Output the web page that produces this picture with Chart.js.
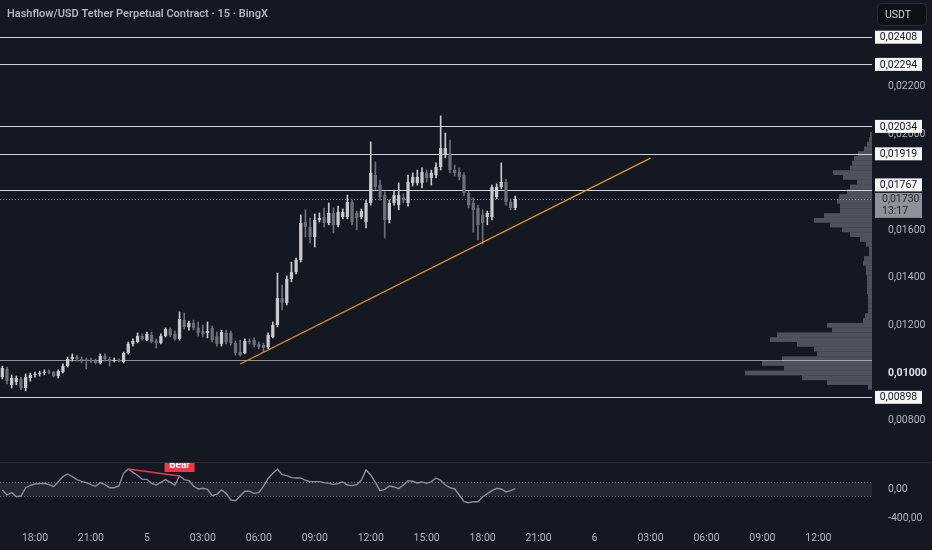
<!DOCTYPE html>
<html>
<head>
<meta charset="utf-8">
<script src="https://cdn.jsdelivr.net/npm/chart.js@4.4.1/dist/chart.umd.min.js"></script>
<style>
  html, body { margin: 0; padding: 0; background: #141823; }
  #wrap { position: relative; width: 932px; height: 550px; overflow: hidden; background: #141823; }
  #main { position: absolute; left: 0; top: 0; width: 932px; height: 462px; }
  #osc { position: absolute; left: 0; top: 462px; width: 932px; height: 88px; }
</style>
</head>
<body>
<div id="wrap">
  <div id="main"><canvas id="priceChart"></canvas></div>
  <div id="osc"><canvas id="oscChart"></canvas></div>
</div>
<script>
// 15 minute slots, day 4 16:15 -> day 6 14:45
const slotLabels = [];
for (let i = 0; i < 187; i++) {
  const m = 16 * 60 + 15 + i * 15;
  const day = 4 + Math.floor(m / 1440);
  const mm = m % 1440;
  slotLabels.push(day + ' ' + String(Math.floor(mm / 60)).padStart(2, '0') + ':' + String(mm % 60).padStart(2, '0'));
}

const timeTicks = ['4 18:00', '4 21:00', '5 00:00', '5 03:00', '5 06:00', '5 09:00', '5 12:00', '5 15:00',
  '5 18:00', '5 21:00', '6 00:00', '6 03:00', '6 06:00', '6 09:00', '6 12:00'];
const timeTickText = ['18:00', '21:00', '5', '03:00', '06:00', '09:00', '12:00', '15:00',
  '18:00', '21:00', '6', '03:00', '06:00', '09:00', '12:00'];

// 0,01800 is hidden behind the level labels, so it is left out
const priceTicks = [0.008, 0.010, 0.012, 0.014, 0.016, 0.020, 0.022];
const priceTickLabels = ['0,00800', '0,01000', '0,01200', '0,01400', '0,01600', '0,02000', '0,02200'];

const openP = [
  0.00983, 0.01017, 0.00950, 0.00962, 0.00975, 0.00937, 0.00979, 0.00992, 0.00996, 0.01000,
  0.01004, 0.01004, 0.00987, 0.01004, 0.01029, 0.01059, 0.01067, 0.01059, 0.01055, 0.01055,
  0.01050, 0.01042, 0.01071, 0.01059, 0.01050, 0.01055, 0.01046, 0.01084, 0.01122, 0.01130,
  0.01155, 0.01138, 0.01159, 0.01134, 0.01126, 0.01155, 0.01184, 0.01164, 0.01143, 0.01222,
  0.01193, 0.01210, 0.01189, 0.01176, 0.01168, 0.01189, 0.01155, 0.01122, 0.01168, 0.01168,
  0.01126, 0.01088, 0.01084, 0.01134, 0.01138, 0.01122, 0.01117, 0.01109, 0.01151, 0.01201,
  0.01314, 0.01294, 0.01394, 0.01423, 0.01474, 0.01633, 0.01612, 0.01570, 0.01642, 0.01654,
  0.01629, 0.01671, 0.01621, 0.01654, 0.01654, 0.01717, 0.01671, 0.01654, 0.01633, 0.01713,
  0.01830, 0.01788, 0.01746, 0.01642, 0.01713, 0.01704, 0.01734, 0.01713, 0.01797, 0.01797,
  0.01797, 0.01839, 0.01818, 0.01830, 0.01864, 0.01914, 0.01922, 0.01851, 0.01843, 0.01830,
  0.01755, 0.01713, 0.01692, 0.01663, 0.01654, 0.01654, 0.01738, 0.01780, 0.01801, 0.01717,
  0.01692
];
const highP = [
  0.01029, 0.01025, 0.00992, 0.00987, 0.00983, 0.00996, 0.01000, 0.01004, 0.01008, 0.01013,
  0.01013, 0.01008, 0.01013, 0.01038, 0.01067, 0.01080, 0.01075, 0.01067, 0.01063, 0.01063,
  0.01059, 0.01080, 0.01080, 0.01067, 0.01063, 0.01059, 0.01088, 0.01130, 0.01143, 0.01168,
  0.01164, 0.01172, 0.01172, 0.01143, 0.01164, 0.01189, 0.01189, 0.01176, 0.01256, 0.01252,
  0.01218, 0.01222, 0.01214, 0.01201, 0.01214, 0.01197, 0.01172, 0.01180, 0.01180, 0.01176,
  0.01134, 0.01138, 0.01143, 0.01143, 0.01147, 0.01130, 0.01126, 0.01168, 0.01214, 0.01419,
  0.01369, 0.01407, 0.01465, 0.01482, 0.01663, 0.01684, 0.01650, 0.01667, 0.01671, 0.01692,
  0.01713, 0.01692, 0.01700, 0.01688, 0.01746, 0.01725, 0.01679, 0.01688, 0.01725, 0.01969,
  0.01885, 0.01809, 0.01759, 0.01725, 0.01767, 0.01797, 0.01751, 0.01830, 0.01839, 0.01851,
  0.01860, 0.01851, 0.01851, 0.01881, 0.02078, 0.02006, 0.01977, 0.01872, 0.01860, 0.01839,
  0.01763, 0.01734, 0.01704, 0.01684, 0.01679, 0.01788, 0.01793, 0.01881, 0.01813, 0.01730,
  0.01742
];
const lowP = [
  0.00975, 0.00954, 0.00937, 0.00950, 0.00929, 0.00925, 0.00966, 0.00983, 0.00987, 0.00992,
  0.00996, 0.00983, 0.00979, 0.01000, 0.01025, 0.01050, 0.01050, 0.01042, 0.01017, 0.01042,
  0.01038, 0.01038, 0.01050, 0.01029, 0.01046, 0.01046, 0.01042, 0.01080, 0.01113, 0.01126,
  0.01138, 0.01134, 0.01126, 0.01105, 0.01122, 0.01151, 0.01151, 0.01138, 0.01138, 0.01184,
  0.01180, 0.01180, 0.01155, 0.01151, 0.01147, 0.01130, 0.01113, 0.01113, 0.01122, 0.01117,
  0.01075, 0.01071, 0.01080, 0.01122, 0.01109, 0.01101, 0.01088, 0.01101, 0.01147, 0.01193,
  0.01264, 0.01285, 0.01382, 0.01415, 0.01465, 0.01570, 0.01545, 0.01528, 0.01633, 0.01612,
  0.01621, 0.01587, 0.01612, 0.01646, 0.01646, 0.01621, 0.01600, 0.01646, 0.01608, 0.01704,
  0.01767, 0.01725, 0.01566, 0.01629, 0.01704, 0.01684, 0.01713, 0.01700, 0.01784, 0.01788,
  0.01776, 0.01801, 0.01788, 0.01818, 0.01851, 0.01902, 0.01839, 0.01826, 0.01809, 0.01742,
  0.01692, 0.01591, 0.01558, 0.01541, 0.01621, 0.01642, 0.01730, 0.01772, 0.01704, 0.01684,
  0.01684
];
const closeP = [
  0.01021, 0.00966, 0.00979, 0.00979, 0.00937, 0.00983, 0.00992, 0.00996, 0.01000, 0.01004,
  0.01002, 0.00987, 0.01008, 0.01029, 0.01059, 0.01067, 0.01059, 0.01055, 0.01052, 0.01050,
  0.01042, 0.01071, 0.01059, 0.01050, 0.01055, 0.01050, 0.01084, 0.01122, 0.01134, 0.01155,
  0.01143, 0.01164, 0.01130, 0.01126, 0.01155, 0.01184, 0.01159, 0.01143, 0.01226, 0.01193,
  0.01210, 0.01189, 0.01168, 0.01164, 0.01176, 0.01138, 0.01122, 0.01172, 0.01130, 0.01126,
  0.01084, 0.01075, 0.01134, 0.01130, 0.01117, 0.01109, 0.01105, 0.01159, 0.01201, 0.01314,
  0.01294, 0.01394, 0.01423, 0.01474, 0.01629, 0.01612, 0.01570, 0.01642, 0.01650, 0.01629,
  0.01671, 0.01621, 0.01675, 0.01675, 0.01717, 0.01633, 0.01650, 0.01679, 0.01713, 0.01839,
  0.01780, 0.01738, 0.01642, 0.01713, 0.01746, 0.01746, 0.01725, 0.01801, 0.01822, 0.01822,
  0.01843, 0.01818, 0.01839, 0.01864, 0.01943, 0.01943, 0.01851, 0.01839, 0.01822, 0.01755,
  0.01704, 0.01684, 0.01621, 0.01629, 0.01671, 0.01780, 0.01780, 0.01801, 0.01717, 0.01692,
  0.01730
];

// drawn levels
const levelPrices = [0.02408, 0.02294, 0.02034, 0.01919, 0.01767, 0.00898];
const levelLabels = ['0,02408', '0,02294', '0,02034', '0,01919', '0,01767', '0,00898'];
const plainLevel = 0.01055;
const lastPrice = 0.01730;
const lastPriceLabel = '0,01730';
const countdown = '13:17';

// trend line
const trendStart = ['5 05:00', 0.01038];
const trendEnd = ['6 03:00', 0.01901];

// visible range volume profile
const profileStep = 0.0002;
const profilePrices = [
  0.0094, 0.0096, 0.0098, 0.0100, 0.0102, 0.0104, 0.0106, 0.0108, 0.0110, 0.0112,
  0.0114, 0.0116, 0.0118, 0.0120, 0.0122, 0.0124, 0.0126, 0.0128, 0.0130, 0.0132,
  0.0134, 0.0136, 0.0138, 0.0140, 0.0142, 0.0144, 0.0146, 0.0148, 0.0150, 0.0152,
  0.0154, 0.0156, 0.0158, 0.0160, 0.0162, 0.0164, 0.0166, 0.0168, 0.0170, 0.0172,
  0.0174, 0.0176, 0.0178, 0.0180, 0.0182, 0.0184, 0.0186, 0.0188, 0.0190, 0.0192,
  0.0194, 0.0196, 0.0198, 0.0200
];
const profileVol = [
  4, 45, 70, 127, 88, 110, 90, 55, 58, 75,
  102, 95, 40, 45, 9, 7, 4, 4, 4, 4,
  5, 5, 5, 5, 6, 6, 9, 8, 3, 3,
  6, 12, 22, 30, 42, 58, 48, 32, 32, 35,
  33, 25, 22, 15, 29, 39, 22, 20, 18, 14,
  8, 5, 3, 2
];

// oscillator pane
const oscValues = [
  -14, -83, -51, -106, -97, 18, 51, 69, 74, 78,
  60, 32, 101, 170, 207, 170, 129, 106, 87, 60,
  37, 87, 60, 18, 18, 41, 216, 276, 230, 189,
  133, 133, 78, 55, 92, 129, 92, 55, 179, 129,
  115, 41, 0, 9, -5, -92, -74, -14, -60, -152,
  -161, -97, -32, -32, -60, -51, 37, 147, 216, 271,
  198, 184, 156, 152, 152, 120, 101, 101, 101, 87,
  78, 64, 74, 97, 55, 46, 60, 124, 262, 193,
  92, -23, -5, 41, 28, 5, 55, 115, 106, 83,
  97, 78, 101, 152, 120, 55, 18, 0, -83, -175,
  -189, -175, -175, -110, -64, -23, 9, 0, -41, -23,
  5
];
const oscBand = [-100, 100];
const oscTicks = [0, -400];
const oscTickLabels = ['0,00', '-400,00'];
const bearFrom = 27;
const bearTo = 38;

const textColor = '#b2b5be';
const upColor = '#c8cad0';
const downColor = '#6d707b';
const font = 'Roboto';

const wickData = openP.map((o, i) => [lowP[i], highP[i]]);
const bodyData = openP.map((o, i) => [o, closeP[i]]);
const candleColor = ctx => closeP[ctx.dataIndex] >= openP[ctx.dataIndex] ? upColor : downColor;

const mainPlugin = {
  id: 'mainDecor',
  beforeDatasetsDraw(chart) {
    const { ctx, chartArea: a, scales: { y } } = chart;
    ctx.save();
    // volume profile
    const maxVol = Math.max(...profileVol);
    ctx.fillStyle = 'rgba(128,131,140,0.55)';
    profilePrices.forEach((p, i) => {
      const top = y.getPixelForValue(p + profileStep / 2);
      const bot = y.getPixelForValue(p - profileStep / 2);
      const w = profileVol[i] / maxVol * 127;
      ctx.fillRect(a.right - w, top, w, bot - top);
    });
    // horizontal levels
    ctx.lineWidth = 1.2;
    ctx.strokeStyle = '#d1d4dc';
    levelPrices.forEach(p => {
      const py = Math.round(y.getPixelForValue(p)) + 0.5;
      ctx.beginPath(); ctx.moveTo(a.left, py); ctx.lineTo(a.right, py); ctx.stroke();
    });
    ctx.strokeStyle = 'rgba(209,212,220,0.65)';
    ctx.lineWidth = 1;
    const pp = Math.round(y.getPixelForValue(plainLevel)) + 0.5;
    ctx.beginPath(); ctx.moveTo(a.left, pp); ctx.lineTo(a.right, pp); ctx.stroke();
    // last price dotted line
    const ly = Math.round(y.getPixelForValue(lastPrice)) + 0.5;
    ctx.setLineDash([1, 2]);
    ctx.strokeStyle = 'rgba(178,181,190,0.7)';
    ctx.beginPath(); ctx.moveTo(a.left, ly); ctx.lineTo(a.right, ly); ctx.stroke();
    ctx.restore();
  },
  afterDraw(chart) {
    const { ctx, chartArea: a, scales: { y } } = chart;
    ctx.save();
    ctx.textBaseline = 'middle';
    // title
    ctx.font = '600 11px ' + font;
    ctx.fillStyle = textColor;
    ctx.textAlign = 'left';
    ctx.fillText('Hashflow/USD Tether Perpetual Contract \u00b7 15 \u00b7 BingX', 7, 14);
    // currency box
    ctx.fillStyle = '#0d1017';
    ctx.strokeStyle = '#2a2e39';
    ctx.lineWidth = 1;
    ctx.beginPath(); ctx.roundRect(877.5, 3.5, 49, 22, 4); ctx.fill(); ctx.stroke();
    ctx.fillStyle = '#d1d4dc';
    ctx.font = '10.5px ' + font;
    ctx.fillText('USDT', 885, 15);
    // last price label
    const ly = y.getPixelForValue(lastPrice);
    ctx.fillStyle = '#8f929a';
    ctx.fillRect(a.right + 3, ly - 6, 47, 25);
    ctx.fillStyle = '#23262f';
    ctx.font = '10.5px ' + font;
    ctx.fillText(lastPriceLabel, a.right + 10, ly);
    ctx.fillText(countdown, a.right + 10, ly + 12);
    // level labels
    levelPrices.forEach((p, i) => {
      let py = y.getPixelForValue(p);
      if (Math.abs(py - ly) < 14) py = ly - 14;
      ctx.fillStyle = '#f5f6f8';
      ctx.fillRect(a.right + 3, py - 6.5, 47, 13);
      ctx.fillStyle = '#131722';
      ctx.textAlign = 'center';
      ctx.fillText(levelLabels[i], a.right + 26.5, py + 0.5);
    });
    ctx.restore();
  }
};

new Chart(document.getElementById('priceChart'), {
  type: 'bar',
  data: {
    labels: slotLabels,
    datasets: [
      {
        type: 'line',
        data: [{ x: trendStart[0], y: trendStart[1] }, { x: trendEnd[0], y: trendEnd[1] }],
        borderColor: '#e8962f', borderWidth: 1.2, pointRadius: 0, order: 0
      },
      { data: bodyData, backgroundColor: candleColor, barPercentage: 0.7, categoryPercentage: 1, grouped: false, minBarLength: 1, order: 1 },
      { data: wickData, backgroundColor: candleColor, barThickness: 1, grouped: false, order: 2 }
    ]
  },
  options: {
    responsive: true,
    maintainAspectRatio: false,
    animation: false,
    layout: { padding: 0 },
    plugins: { legend: { display: false }, tooltip: { enabled: false } },
    scales: {
      x: { type: 'category', offset: true, display: false },
      y: {
        position: 'right',
        min: 0.006268,
        max: 0.02564,
        grid: { display: false },
        border: { display: false },
        afterFit: s => { s.width = 60; s.paddingTop = 0; s.paddingBottom = 0; },
        afterBuildTicks: s => { s.ticks = priceTicks.map(v => ({ value: v })); },
        ticks: {
          padding: 8,
          color: c => c.tick && c.tick.value === 0.010 ? '#e0e3eb' : textColor,
          font: c => ({ family: font, size: 10.5, weight: c.tick && c.tick.value === 0.010 ? 'bold' : 'normal' }),
          callback: v => { const k = priceTicks.indexOf(v); return k >= 0 ? priceTickLabels[k] : ''; }
        }
      }
    }
  },
  plugins: [mainPlugin]
});

const oscPlugin = {
  id: 'oscDecor',
  beforeDatasetsDraw(chart) {
    const { ctx, chartArea: a, scales: { y } } = chart;
    ctx.save();
    const t = y.getPixelForValue(oscBand[1]);
    const b = y.getPixelForValue(oscBand[0]);
    ctx.fillStyle = 'rgba(120,123,134,0.16)';
    ctx.fillRect(a.left, t, a.right - a.left, b - t);
    ctx.setLineDash([1, 2]);
    ctx.strokeStyle = 'rgba(160,163,172,0.55)';
    ctx.lineWidth = 1;
    [t, b].forEach(py => {
      ctx.beginPath(); ctx.moveTo(a.left, Math.round(py) + 0.5); ctx.lineTo(a.right, Math.round(py) + 0.5); ctx.stroke();
    });
    ctx.setLineDash([]);
    ctx.strokeStyle = '#2a2e39';
    ctx.beginPath(); ctx.moveTo(0, 0.5); ctx.lineTo(chart.width, 0.5); ctx.stroke();
    ctx.restore();
  },
  afterDatasetsDraw(chart) {
    const { ctx, chartArea: a, scales: { x } } = chart;
    ctx.save();
    ctx.beginPath(); ctx.rect(a.left, a.top + 1, a.right - a.left, a.bottom - a.top); ctx.clip();
    const px = x.getPixelForValue(bearTo);
    ctx.fillStyle = '#f23645';
    ctx.fillRect(px - 15, -3, 30, 13);
    ctx.fillStyle = '#ffffff';
    ctx.font = 'bold 10px ' + font;
    ctx.textAlign = 'center';
    ctx.textBaseline = 'middle';
    ctx.fillText('Bear', px, 3.5);
    ctx.restore();
  }
};

new Chart(document.getElementById('oscChart'), {
  type: 'line',
  data: {
    labels: slotLabels,
    datasets: [
      {
        data: [{ x: slotLabels[bearFrom], y: oscValues[bearFrom] }, { x: slotLabels[bearTo], y: oscValues[bearTo] }],
        borderColor: '#f23645', borderWidth: 1.5, pointRadius: 0, order: 0
      },
      { data: oscValues, borderColor: '#8c8f99', borderWidth: 1.4, pointRadius: 0, tension: 0, order: 1 }
    ]
  },
  options: {
    responsive: true,
    maintainAspectRatio: false,
    animation: false,
    layout: { padding: 0 },
    plugins: { legend: { display: false }, tooltip: { enabled: false } },
    scales: {
      x: {
        type: 'category',
        offset: true,
        grid: { display: false, drawTicks: false },
        border: { display: false },
        afterFit: s => { s.height = 23; s.paddingLeft = 0; s.paddingRight = 0; },
        ticks: {
          autoSkip: false,
          maxRotation: 0,
          padding: 5,
          color: textColor,
          font: c => ({ family: font, size: 10.5, weight: timeTicks.indexOf(slotLabels[c.index]) >= 0 && slotLabels[c.index].endsWith('00:00') ? 'bold' : 'normal' }),
          callback: (v, i) => { const k = timeTicks.indexOf(slotLabels[i]); return k >= 0 ? timeTickText[k] : null; }
        }
      },
      y: {
        position: 'right',
        min: -524,
        max: 372,
        grid: { display: false },
        border: { display: false },
        afterFit: s => { s.width = 60; s.paddingTop = 0; s.paddingBottom = 0; },
        afterBuildTicks: s => { s.ticks = oscTicks.map(v => ({ value: v })); },
        ticks: {
          padding: 8,
          color: textColor,
          font: { family: font, size: 10.5 },
          callback: v => { const k = oscTicks.indexOf(v); return k >= 0 ? oscTickLabels[k] : ''; }
        }
      }
    }
  },
  plugins: [oscPlugin]
});
</script>
</body>
</html>
